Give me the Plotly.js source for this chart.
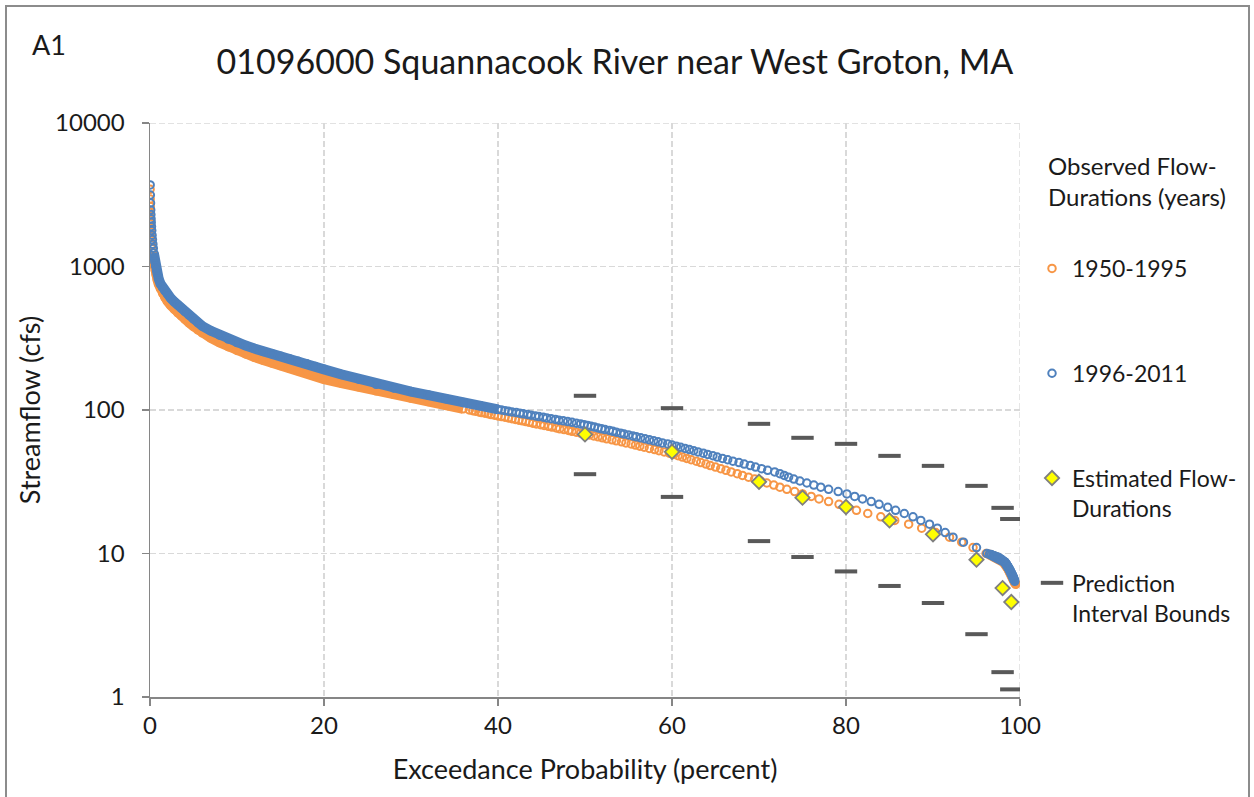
<!DOCTYPE html>
<html>
<head>
<meta charset="utf-8">
<script src="https://cdn.plot.ly/plotly-3.0.1.min.js"></script>
<style>
  html, body { margin: 0; padding: 0; overflow: hidden; background: #fff; }
  #chart { width: 1254px; height: 797px; }
  #frame { position: absolute; left: 5px; top: 5px; width: 1241px; height: 820px;
           border: 2px solid #8c8c8c; pointer-events: none; }
</style>
</head>
<body>
<div id="chart"></div>
<div id="frame"></div>
<script>
// Flow-duration data: exceedance probability (percent) and streamflow (cfs)

// 1950-1995 record
const oTopP  = [0.01,0.02,0.03,0.04,0.05,0.06,0.08,0.10,0.12,0.15,0.18,0.22,0.26];
const oTopQ  = [3450,2950,2620,2400,2250,2120,1980,1850,1740,1620,1520,1420,1330];
const oBandP = [0.3,0.36,0.43,0.5,0.6,0.7,0.85,1.0,1.2,1.45,1.7,2.0,2.4,2.8,3.2,3.6,4.0,4.5,5.0,5.5,6.0,
                7,8,9,10,11,12,13,14,15,16,17,18,19,20,22,24,26,28,30,32,34,36];
const oBandQ = [1250,1160,1080,1010,940,880,810,755,700,650,610,575,535,502,475,452,430,405,383,362,345,
                318,295,276,260,246,234,223,213,204,196,188,180,172,164,154,145,136,128.5,121,114.5,108,102];
const oStepP = [36.7,37.1,37.4,37.8,38.1,38.5,38.9,39.2,39.6,40.0,
                40.4,40.8,41.2,41.6,42.0,42.4,42.8,43.2,43.6,44.0,
                44.4,44.9,45.3,45.8,46.2,46.7,47.1,47.6,48.1,48.5,
                49.0,49.5,50.0,50.5,51.0,51.5,52.0,52.5,53.1,53.6,
                54.2,54.7,55.3,55.8,56.3,56.8,57.4,58.0,58.5,59.1,
                59.7,60.2,60.7,61.2,61.7,62.2,62.8,63.3,63.9,64.4,
                65.0,65.6,66.2,66.8,67.5,68.1,68.8,69.5,70.2,70.9,
                71.7,72.4,73.2,74.1,75.0,76.0,76.9,78.0,79.2,80.2,
                81.2,82.5,84.0,85.6,87.2,88.7,90.3,91.9,93.3,94.6,
                96.1];
const oTailP = [96.4,96.6,96.8,97.0,97.2,97.35,97.5,97.6,97.7,97.8,97.9,98.0,98.1,98.2,98.3,
                98.35,98.4,98.45,98.5,98.55,98.6,98.65,98.7,98.75,98.8,98.85,98.9,98.95,99.0,
                99.05,99.1,99.15,99.2,99.25,99.3,99.35,99.4,99.45,99.5];
const oTailQ = [9.9,9.8,9.7,9.6,9.5,9.4,9.3,9.2,9.1,9.0,8.9,8.8,8.7,8.6,8.5,8.4,8.3,8.2,8.1,8.0,
                7.9,7.8,7.7,7.6,7.5,7.4,7.3,7.2,7.1,7.0,6.9,6.8,6.7,6.6,6.5,6.4,6.3,6.2,6.1];

// 1996-2011 record
const bTopP  = [0.02,0.04,0.06,0.08,0.10,0.12,0.14,0.17,0.20,0.24,0.28,0.33,0.38];
const bTopQ  = [3700,3150,2770,2480,2300,2150,2030,1900,1780,1650,1540,1430,1340];
const bBandP = [0.44,0.5,0.57,0.65,0.75,0.85,1.0,1.2,1.45,1.7,2.0,2.4,2.8,3.2,3.6,4.0,4.5,5.0,5.5,6.0,
                7,8,9,10,11,12,13,14,15,16,17,18,19,20,22,24,26,28,30,32,34,36,38,40];
const bBandQ = [1240,1160,1080,1010,940,885,820,760,715,680,645,600,568,540,512,487,458,432,407,385,
                356,332,312,295,281,268,256,247,237,228,219,210,201,192,177,164,151,142.5,134.5,127,120,113,107,101];
const bStepP = [40.4,40.8,41.2,41.6,42.1,42.5,42.9,43.4,43.8,44.3,
                44.7,45.2,45.6,46.1,46.6,47.0,47.5,48.0,48.5,49.0,
                49.5,49.9,50.3,50.7,51.1,51.5,51.9,52.3,52.8,53.2,
                53.6,54.1,54.5,55.0,55.5,55.9,56.4,56.9,57.4,57.9,
                58.4,58.9,59.5,60.0,60.5,61.0,61.5,62.0,62.5,63.0,
                63.6,64.1,64.7,65.2,65.8,66.4,67.0,67.7,68.3,69.0,
                69.6,70.3,71.0,71.8,72.4,72.9,73.4,74.0,74.7,75.5,
                76.3,77.1,78.0,79.1,80.1,81.0,81.9,82.9,83.8,84.8,
                85.7,86.7,87.7,88.6,89.6,90.5,91.4,92.3,93.5,95.0,
                96.2];
const bTailP = [96.5,96.7,96.9,97.1,97.3,97.5,97.6,97.75,97.85,97.95,98.05,98.15,98.25,98.3,98.4,
                98.45,98.5,98.55,98.6,98.65,98.7,98.75,98.8,98.85,98.9,98.95,99.0,99.05,99.1,
                99.15,99.2,99.22,99.26,99.3,99.35,99.4];
const bTailQ = [9.9,9.8,9.7,9.6,9.5,9.4,9.3,9.2,9.1,9.0,8.9,8.8,8.7,8.6,8.5,8.4,8.3,8.2,8.1,8.0,
                7.9,7.8,7.7,7.6,7.5,7.4,7.3,7.2,7.1,7.0,6.9,6.8,6.7,6.6,6.5,6.4];

// whole-cfs flows shared by the low-flow parts of both records
const stepQ = [100,99,98,97,96,95,94,93,92,91,90,89,88,87,86,85,84,83,82,81,
               80,79,78,77,76,75,74,73,72,71,70,69,68,67,66,65,64,63,62,61,
               60,59,58,57,56,55,54,53,52,51,50,49,48,47,46,45,44,43,42,41,
               40,39,38,37,36,35,34,33,32,31,30,29,28,27,26,25,24,23,22,21,
               20,19,18,17,16,15,14,13,12,11,10];

// estimated flow-durations and prediction interval bounds
const estP  = [50,60,70,75,80,85,90,95,98,99];
const estQ  = [67.6,51.1,31.6,24.5,21.1,17.0,13.6,9.06,5.74,4.59];
const upperQ = [125.6,103,80.1,64,58.1,47.9,40.8,29.6,20.8,17.4];
const lowerQ = [35.7,24.8,12.2,9.45,7.5,5.94,4.52,2.74,1.49,1.13];

const xTicks = [0,20,40,60,80,100];
const yTicks = [1,10,100,1000,10000];
const yTickText = ['1','10','100','1000','10000'];

const ORANGE = '#F79646', BLUE = '#4F81BD';
const GRID = '#D9D9D9', GRID_DASH = '6px,3px';
const ringSize = 7.5, ringWidth = 2, bandWidth = 10;

function bandTrace(p1, q1, p2, q2, color) {
  return {
    x: p1.concat([null], p2), y: q1.concat([null], q2),
    type: 'scatter', mode: 'lines', hoverinfo: 'skip', showlegend: false,
    connectgaps: false, line: {color: color, width: bandWidth}
  };
}
function ringTrace(name, ps, qs, color, group) {
  return {
    x: [].concat(...ps), y: [].concat(...qs), name: name, legendgroup: group,
    type: 'scatter', mode: 'markers',
    marker: {symbol: 'circle-open', size: ringSize, color: color, line: {width: ringWidth, color: color}}
  };
}

const NB = '\u00a0';
const traces = [
  bandTrace(oBandP, oBandQ, oTailP, oTailQ, ORANGE),
  ringTrace('1950-1995<br>' + NB, [oTopP, oBandP, oStepP, oTailP], [oTopQ, oBandQ, stepQ, oTailQ], ORANGE, 'g1'),
  bandTrace(bBandP, bBandQ, bTailP, bTailQ, BLUE),
  ringTrace('1996-2011<br>' + NB, [bTopP, bBandP, bStepP, bTailP], [bTopQ, bBandQ, stepQ, bTailQ], BLUE, 'g2'),
  {
    x: estP, y: estQ, name: 'Estimated Flow-<br>Durations', legendgroup: 'g3',
    type: 'scatter', mode: 'markers',
    marker: {symbol: 'diamond', size: 11, color: '#FFFF00', line: {width: 1.8, color: '#7F7F7F'}}
  },
  {
    x: estP.concat(estP), y: upperQ.concat(lowerQ), name: 'Prediction<br>Interval Bounds', legendgroup: 'g4',
    type: 'scatter', mode: 'markers',
    marker: {symbol: 'line-ew', size: 16, color: '#595959', line: {width: 4, color: '#595959'}}
  }
];

const axisCommon = {
  showgrid: true, gridcolor: GRID, gridwidth: 1.3, griddash: GRID_DASH,
  showline: true, linecolor: '#868686', linewidth: 1.5,
  ticks: 'outside', ticklen: 7, tickcolor: '#868686', tickwidth: 1.3,
  tickfont: {size: 24, color: '#1a1a1a'}, zeroline: false, automargin: false
};

const layout = {
  width: 1254, height: 797,
  margin: {l: 150, r: 234, t: 123, b: 100},
  paper_bgcolor: '#ffffff', plot_bgcolor: '#ffffff',
  font: {family: 'Lato, "Open Sans", sans-serif', color: '#1a1a1a'},
  title: {
    text: '01096000 Squannacook River near West Groton, MA',
    font: {size: 34, color: '#1a1a1a'},
    x: 0.4904, xanchor: 'center', xref: 'container',
    y: 0.922, yanchor: 'middle', yref: 'container'
  },
  xaxis: Object.assign({}, axisCommon, {
    range: [0, 100], tickvals: xTicks,
    title: {text: 'Exceedance Probability (percent)', font: {size: 27}, standoff: 22}
  }),
  yaxis: Object.assign({}, axisCommon, {
    type: 'log', range: [0, 4], tickvals: yTicks, ticktext: yTickText,
    ticklabelstandoff: 12,
    title: {text: 'Streamflow (cfs)', font: {size: 27}, standoff: 6}
  }),
  legend: {
    x: 1.0138, xanchor: 'left', xref: 'paper',
    y: 0.784, yanchor: 'top', yref: 'paper',
    valign: 'top', tracegroupgap: 42,
    font: {size: 23, color: '#1a1a1a'},
    bgcolor: 'rgba(0,0,0,0)'
  },
  shapes: [
    // gridlines at the far ends of both axes
    {type: 'line', xref: 'x', yref: 'paper', x0: 100, x1: 100, y0: 0, y1: 1,
     line: {color: GRID, width: 1.3, dash: GRID_DASH}, layer: 'below'},
    {type: 'line', xref: 'paper', yref: 'y', x0: 0, x1: 1, y0: 10000, y1: 10000,
     line: {color: GRID, width: 1.3, dash: GRID_DASH}, layer: 'below'}
  ],
  annotations: [
    {text: 'A1', xref: 'paper', yref: 'paper', x: -0.138, y: 1.136,
     xanchor: 'left', yanchor: 'middle', showarrow: false,
     font: {size: 27, color: '#1a1a1a'}},
    {text: 'Observed Flow-<br>Durations (years)', xref: 'paper', yref: 'paper',
     x: 1.03, y: 0.9547, xanchor: 'left', yanchor: 'top', align: 'left', showarrow: false,
     font: {size: 24, color: '#1a1a1a'}}
  ],
  showlegend: true
};

Plotly.newPlot('chart', traces, layout, {displayModeBar: false, staticPlot: true});
</script>
</body>
</html>
